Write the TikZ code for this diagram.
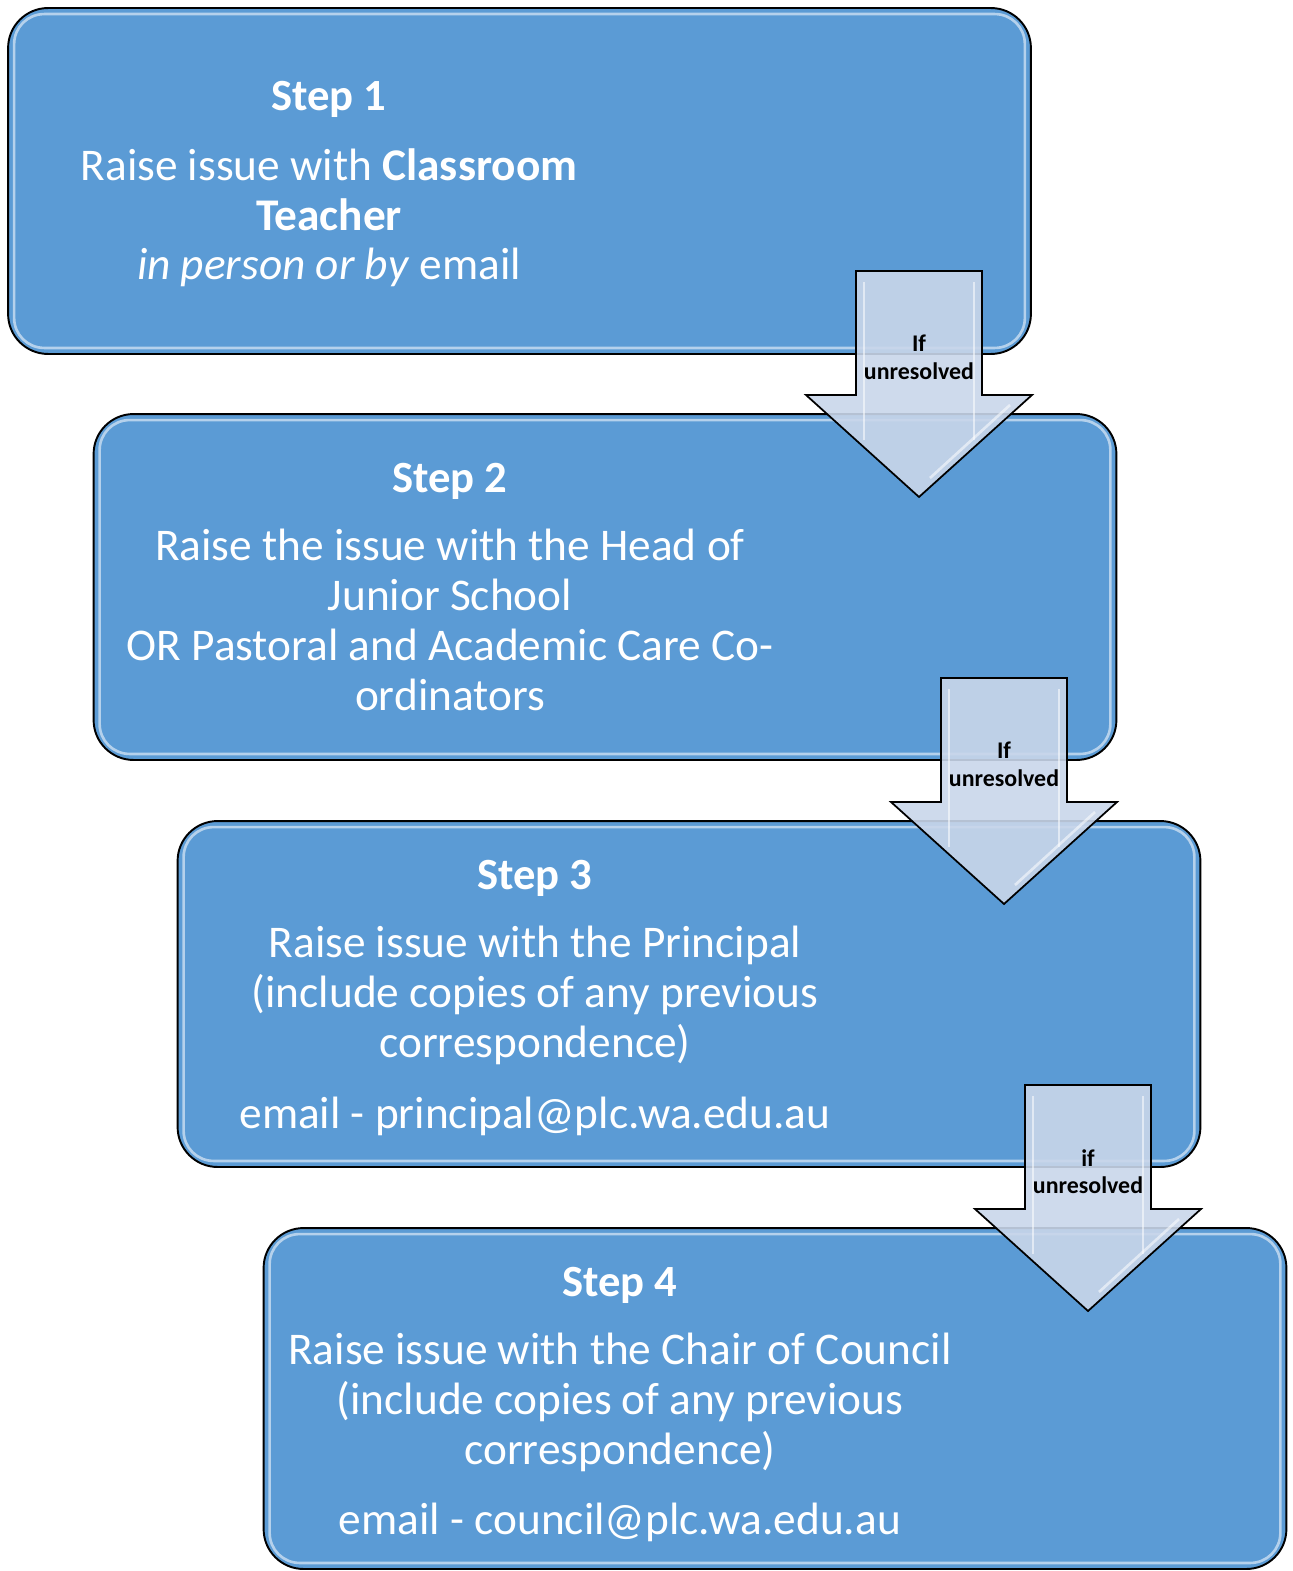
\documentclass[tikz,border=0pt]{standalone}
\usepackage{fontspec}
\setmainfont{Carlito}
\definecolor{stepblue}{HTML}{5B9BD5}
\definecolor{arrowfill}{HTML}{C9D6EA}

\begin{document}
\begin{tikzpicture}[
		x=0.02cm, y=-0.02cm,
		stepbox/.style={rectangle, draw=black, line width=1.1pt, fill=stepblue, rounded corners=0.8cm, minimum width=20.46cm, minimum height=6.92cm, inner sep=0pt},
		steptitle/.style={anchor=base, text=white, inner sep=0pt, font=\fontsize{25.4}{28.4}\selectfont\bfseries},
		stepbody/.style={anchor=north, text=white, align=center, inner sep=0pt, font=\fontsize{25.8}{28.4}\selectfont},
		downarrow/.style={draw=black, line width=1pt, fill=arrowfill, fill opacity=0.9, line join=miter},
		shine/.style={draw=white, line width=1.5pt, draw opacity=0.55},
		arrowtext/.style={anchor=north, align=center, inner sep=0pt, font=\fontsize{13.6}{15.4}\selectfont\bfseries}
	]
  \useasboundingbox (0,0) rectangle (1292,1571);
  \node (box1) [stepbox] at (519.5,181) {};
  \node (box2) [stepbox] at (605,587) {};
  \node (box3) [stepbox] at (689,994) {};
  \node (box4) [stepbox, minimum height=6.82cm] at (775,1398.5) {};
  \foreach \b in {box1,box2,box3,box4}
    \draw[shine, rounded corners=0.6cm] ([shift={(7,7)}]\b.north west) rectangle ([shift={(-7,-7)}]\b.south east);
  \node (title1) [steptitle] at (329,111) {Step 1};
  \node (body1) [stepbody] at (329,148) {Raise issue with \textbf{Classroom}\\\textbf{Teacher}\\\textit{in person or by} email};
  \node (title2) [steptitle] at (450,492) {Step 2};
  \node (body2) [stepbody] at (450,529) {Raise the issue with the Head of\\Junior School\\OR Pastoral and Academic Care Co-\\ordinators};
  \node (title3) [steptitle] at (535,889) {Step 3};
  \node (body3) [stepbody] at (535,926) {Raise issue with the Principal\\(include copies of any previous\\correspondence)};
  \node (mail3) [steptitle, font=\fontsize{25.8}{28.4}\selectfont] at (535,1128) {email - principal@plc.wa.edu.au};
  \node (title4) [steptitle] at (620,1296) {Step 4};
  \node (body4) [stepbody] at (620,1333) {Raise issue with the Chair of Council\\(include copies of any previous\\correspondence)};
  \node (mail4) [steptitle, font=\fontsize{25.8}{28.4}\selectfont] at (620,1534) {email - council@plc.wa.edu.au};
  \foreach \n/\dx/\dy/\word in {1/0/0/If, 2/85/407/If, 3/169/814/if}{
    \begin{scope}[shift={(\dx,\dy)}]
      \draw[downarrow] (856,271) -- (982,271) -- (982,395) -- (1032,395) -- (919,497) -- (806,395) -- (856,395) -- cycle;
      \draw[shine] (864,282) -- (864,440);
      \draw[shine] (974,282) -- (974,440);
      \draw[shine] (1010,405) -- (930,478);
      \node (cond\n) [arrowtext] at (919,335) {\word\\unresolved};
    \end{scope}
  }
\end{tikzpicture}
\end{document}
